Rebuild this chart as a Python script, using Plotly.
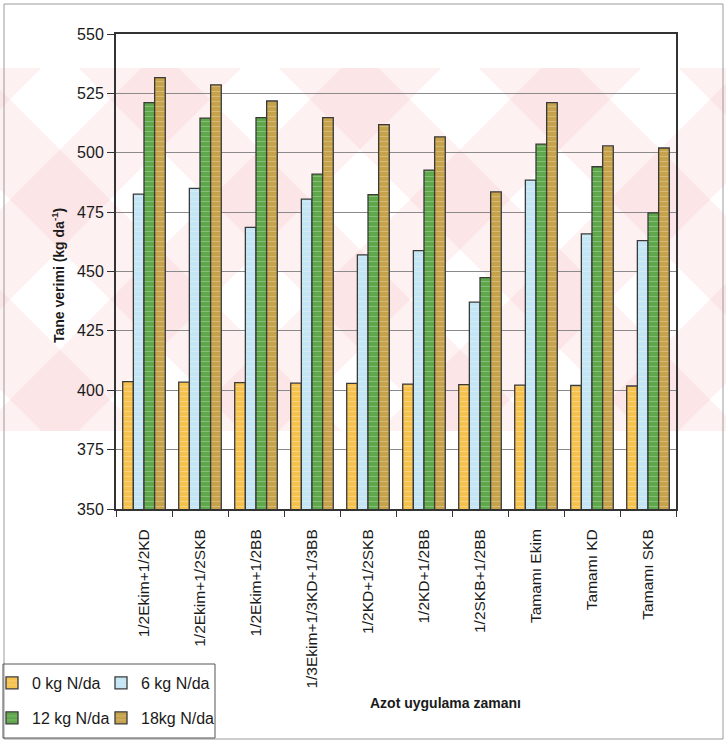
import plotly.graph_objects as go

# Nitrogen application timing treatments
categories = [
    "1/2Ekim+1/2KD", "1/2Ekim+1/2SKB", "1/2Ekim+1/2BB", "1/3Ekim+1/3KD+1/3BB",
    "1/2KD+1/2SKB", "1/2KD+1/2BB", "1/2SKB+1/2BB", "Tamamı Ekim", "Tamamı KD", "Tamamı SKB",
]

# Grain yield (kg da-1) for each nitrogen dose
n0 = [403.6, 403.4, 403.2, 403.0, 402.9, 402.6, 402.4, 402.2, 402.0, 401.8]
n6 = [482.6, 485.0, 468.6, 480.5, 457.0, 458.8, 437.1, 488.5, 465.8, 463.0]
n12 = [521.1, 514.6, 514.8, 491.0, 482.4, 492.7, 447.4, 503.6, 494.1, 474.7]
n18 = [531.6, 528.6, 521.8, 514.8, 511.8, 506.7, 483.5, 521.1, 502.9, 502.0]

series_names = ["0 kg N/da", "6 kg N/da", "12 kg N/da", "18kg N/da"]
series_values = [n0, n6, n12, n18]
series_colors = ["#F6C24E", "#C4E5F3", "#5FA74B", "#C6A24A"]
legend_ids = ["legend", "legend2", "legend3", "legend4"]

y_ticks = [350, 375, 400, 425, 450, 475, 500, 525, 550]

W, H = 726, 742
L, R, T, B = 116, 676, 34, 509  # plot area in pixels
FONT = "Arial, Liberation Sans, sans-serif"


def px_x(p):
    return (p - L) / (R - L)


def px_y(p):
    return (B - p) / (B - T)


fig = go.Figure()
for name, vals, col, lg in zip(series_names, series_values, series_colors, legend_ids):
    fig.add_trace(go.Bar(
        x=categories, y=vals, name=name, legend=lg,
        marker=dict(
            color=col, line=dict(color="#3a3a3a", width=1.3),
            pattern=dict(shape="-", fgcolor="white", fgopacity=0.35, size=5, solidity=0.15),
        ),
    ))

# Faint pink background watermark bands (X-shaped diagonals)
shapes = []
y_top, y_bot = 68, 431
span = y_bot - y_top
band = 100
pink = "rgba(240,165,175,0.16)"
for cx in [-140, 60, 260, 460, 660, 860]:
    # "\" band
    x0 = cx - span / 2
    path = (f"M {px_x(x0)} {px_y(y_top)} L {px_x(x0 + band)} {px_y(y_top)} "
            f"L {px_x(x0 + band + span)} {px_y(y_bot)} L {px_x(x0 + span)} {px_y(y_bot)} Z")
    shapes.append(dict(type="path", path=path, xref="paper", yref="paper",
                       fillcolor=pink, line=dict(width=0), layer="below"))
    # "/" band
    x1 = cx + span / 2
    path = (f"M {px_x(x1 - band)} {px_y(y_top)} L {px_x(x1)} {px_y(y_top)} "
            f"L {px_x(x1 - span)} {px_y(y_bot)} L {px_x(x1 - span - band)} {px_y(y_bot)} Z")
    shapes.append(dict(type="path", path=path, xref="paper", yref="paper",
                       fillcolor=pink, line=dict(width=0), layer="below"))

# Outer frame
shapes.append(dict(type="rect", xref="paper", yref="paper",
                   x0=px_x(4), x1=px_x(723), y0=px_y(739), y1=px_y(4),
                   line=dict(color="#9a9a9a", width=1), fillcolor="rgba(0,0,0,0)", layer="below"))
# Legend box
shapes.append(dict(type="rect", xref="paper", yref="paper",
                   x0=px_x(3), x1=px_x(215), y0=px_y(738), y1=px_y(664),
                   line=dict(color="#555555", width=1), fillcolor="rgba(0,0,0,0)"))

legend_font = dict(family=FONT, size=16, color="#1a1a1a")
legend_pos = [(-8, 683), (101, 683), (-8, 718), (101, 718)]
legend_layout = {}
for lg, (lx, ly) in zip(legend_ids, legend_pos):
    legend_layout[lg] = dict(
        xref="paper", yref="paper", x=px_x(lx), y=px_y(ly),
        xanchor="left", yanchor="middle", bgcolor="rgba(0,0,0,0)",
        borderwidth=0, font=legend_font, itemwidth=30,
    )

fig.update_layout(
    width=W, height=H,
    margin=dict(l=L, r=W - R, t=T, b=H - B, autoexpand=False),
    paper_bgcolor="white",
    plot_bgcolor="rgba(0,0,0,0)",
    barmode="group", bargap=0.24, bargroupgap=0,
    font=dict(family=FONT, color="#222222"),
    showlegend=True,
    shapes=shapes,
    **legend_layout,
)

fig.update_xaxes(
    type="category", tickangle=-90, tickson="boundaries",
    ticks="outside", ticklen=6, tickcolor="#333333",
    tickfont=dict(family=FONT, size=15.5, color="#1a1a1a"),
    ticklabelstandoff=12,
    showline=True, linecolor="#333333", linewidth=2, mirror=True,
    showgrid=False, automargin=False,
)
fig.update_yaxes(
    range=[350, 550], tickvals=y_ticks,
    ticks="outside", ticklen=7, tickcolor="#333333",
    tickfont=dict(family=FONT, size=16, color="#1a1a1a"),
    showline=True, linecolor="#333333", linewidth=2, mirror=True,
    showgrid=True, gridcolor="#8a8a8a", gridwidth=1,
    zeroline=False, automargin=False,
)

fig.add_annotation(
    text="Tane verimi (kg da<sup>-1</sup>)", xref="paper", yref="paper",
    x=px_x(58), y=px_y(275), textangle=-90, showarrow=False,
    xanchor="center", yanchor="middle",
    font=dict(family=FONT, size=14, color="#1a1a1a", weight="bold"),
)
fig.add_annotation(
    text="Azot uygulama zamanı", xref="paper", yref="paper",
    x=px_x(445), y=px_y(703), showarrow=False,
    xanchor="center", yanchor="middle",
    font=dict(family=FONT, size=14, color="#1a1a1a", weight="bold"),
)

fig.write_html("out.html")
